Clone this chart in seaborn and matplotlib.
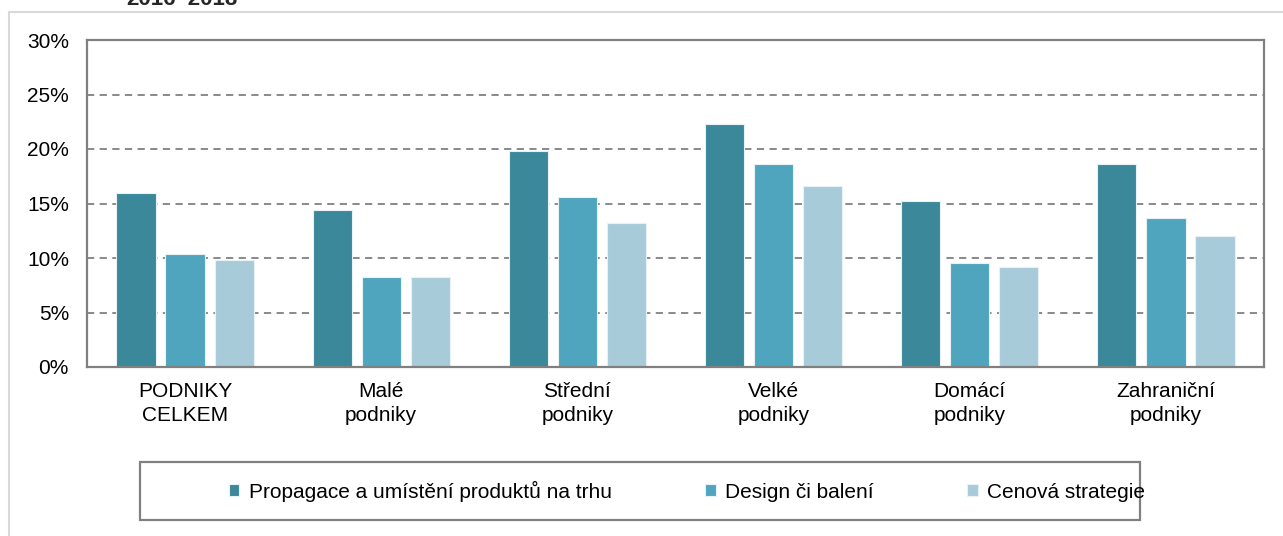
import matplotlib
matplotlib.use("Agg")
import matplotlib.pyplot as plt
import seaborn as sns
import pandas as pd
from matplotlib.patches import Rectangle
from matplotlib.ticker import PercentFormatter

categories = ["PODNIKY\nCELKEM", "Malé\npodniky", "Střední\npodniky",
              "Velké\npodniky", "Domácí\npodniky", "Zahraniční\npodniky"]
series = ["Propagace a umístění produktů na trhu", "Design či balení", "Cenová strategie"]
propagace = [16.0, 14.4, 19.8, 22.3, 15.2, 18.6]
design = [10.4, 8.3, 15.6, 18.6, 9.5, 13.7]
cenova = [9.8, 8.3, 13.2, 16.6, 9.2, 12.0]
colors = ["#3B889A", "#4FA5BD", "#A8CBDA"]
yticks = [0, 5, 10, 15, 20, 25, 30]

rows = []
for s, vals in zip(series, [propagace, design, cenova]):
    for c, v in zip(categories, vals):
        rows.append({"kategorie": c, "typ": s, "hodnota": v})
df = pd.DataFrame(rows)

sns.set_theme(style="white")
plt.rcParams["font.family"] = ["Liberation Sans", "DejaVu Sans"]

FS = 15

fig = plt.figure(figsize=(12.83, 5.36), dpi=100)
ax = fig.add_axes([87/1283, 1-367/536, (1264-87)/1283, (367-40)/536])

sns.barplot(data=df, x="kategorie", y="hodnota", hue="typ", order=categories,
            hue_order=series, palette=colors, width=0.75, gap=0.2,
            edgecolor="#E8F1F4", linewidth=0.8, saturation=1, ax=ax, legend=True)

ax.set_ylim(0, 30)
ax.set_yticks(yticks)
ax.yaxis.set_major_formatter(PercentFormatter(decimals=0))
ax.set_xlabel("")
ax.set_ylabel("")
ax.set_axisbelow(True)
ax.yaxis.grid(True, linestyle=(0, (4, 3)), color="#808080", linewidth=1.3)
ax.xaxis.grid(False)
for sp in ax.spines.values():
    sp.set_color("#808080")
    sp.set_linewidth(1.6)
ax.tick_params(axis="y", length=0, pad=13, labelsize=FS, colors="black")
ax.tick_params(axis="x", length=0, pad=11, labelsize=FS, colors="black")
for lab in ax.get_xticklabels():
    lab.set_linespacing(1.32)

handles, labels = ax.get_legend_handles_labels()
ax.legend_.remove()
fig.legend(handles, labels, loc="center", bbox_to_anchor=(687/1283, 1-491/536),
           ncol=3, frameon=False, fontsize=FS, handlelength=0.5, handleheight=0.5,
           handletextpad=0.45, columnspacing=4.5, labelcolor="black")

# legend box
fig.add_artist(Rectangle((140/1283, 1-520/536), 1000/1283, 58/536, transform=fig.transFigure,
                         fill=False, edgecolor="#808080", linewidth=1.6))
# outer frame
fig.add_artist(Rectangle((9/1283, -0.05), 1.1, 1-12/536+0.05, transform=fig.transFigure,
                         fill=False, edgecolor="#D9D9D9", linewidth=1.5))
# cut-off title (only its lower part is visible in the reference)
fig.text(182/1283, 1-5/536, "2016–2018", ha="center", va="baseline", fontsize=16, fontweight="bold")

fig.savefig("out.png", dpi=100)
